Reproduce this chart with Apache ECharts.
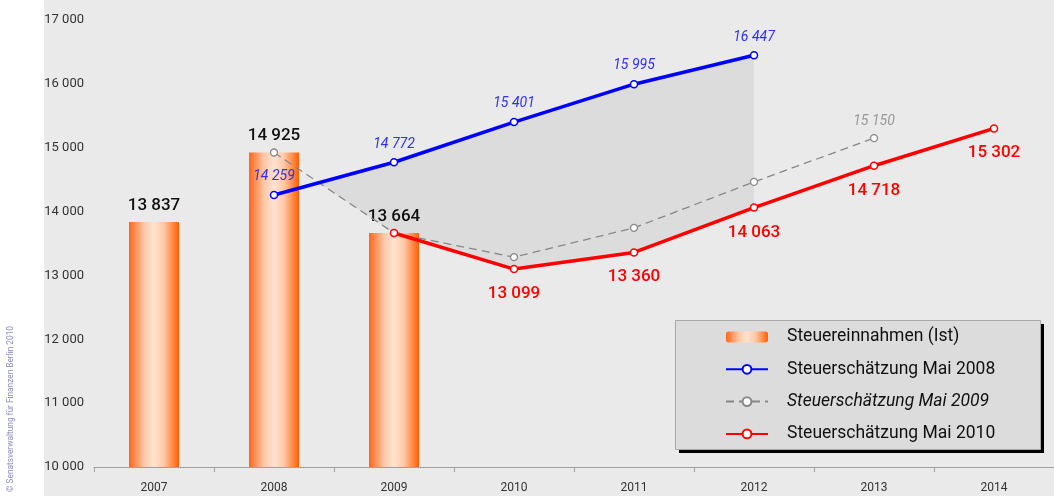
<!DOCTYPE html>
<html>
<head>
<meta charset="utf-8">
<title>Steuereinnahmen Berlin</title>
<script src="https://cdn.jsdelivr.net/npm/echarts@6/dist/echarts.min.js"></script>
<style>
    html, body { margin: 0; padding: 0; background: #fff; }
    #chart { width: 1054px; height: 496px; }
</style>
</head>
<body>
<div id="chart"></div>
<script>
// Jahre (x-Achse)
var years = ['2007', '2008', '2009', '2010', '2011', '2012', '2013', '2014']
// Steuereinnahmen (Ist), Mio. Euro
var ist = [13837, 14925, 13664, null, null, null, null, null]
// Steuerschätzung Mai 2008
var mai2008 = [null, 14259, 14772, 15401, 15995, 16447, null, null]
// Steuerschätzung Mai 2009
var mai2009 = [null, 14925, 13664, 13286, 13745, 14465, 15150, null]
// Steuerschätzung Mai 2010
var mai2010 = [null, null, 13664, 13099, 13360, 14063, 14718, 15302]
// nur diese Punkte bekommen eine Beschriftung
var mai2009Labels = [6]
var mai2010Labels = [3, 4, 5, 6, 7]

var FONT = 'Roboto, sans-serif'

function fmt(v) {
    var t = String(v % 1000)
    while (t.length < 3) t = '0' + t
    return Math.floor(v / 1000) + ' ' + t
}

function withLabels(arr, idx) {
    return arr.map(function (v, i) {
        if (v == null) return null
        return { value: v, label: { show: idx.indexOf(i) >= 0 } }
    })
}

// graue Fläche zwischen Schätzung 2008 und den späteren Schätzungen
function renderGap(params, api) {
    var p = function (i, v) { return api.coord([i, v]) }
    // Schnittpunkt blau / grau zwischen 2008 und 2009
    var a1 = p(1, mai2008[1]), a2 = p(2, mai2008[2])
    var b1 = p(1, mai2009[1]), b2 = p(2, mai2009[2])
    var d1 = a1[1] - b1[1], d2 = a2[1] - b2[1]
    var t = d1 / (d1 - d2)
    var cross = [a1[0] + (a2[0] - a1[0]) * t, a1[1] + (a2[1] - a1[1]) * t]
    var pts = [cross]
    for (var i = 2; i <= 5; i++) pts.push(p(i, mai2008[i]))
    for (var j = 5; j >= 2; j--) pts.push(p(j, mai2010[j]))
    return {
        type: 'polygon',
        shape: { points: pts },
        style: { fill: '#dcdcdc' },
        silent: true
    }
}

var chart = echarts.init(document.getElementById('chart'))

var option = {
    backgroundColor: '#eaeaea',
    animation: false,
    textStyle: { fontFamily: FONT },
    graphic: [
        {
            type: 'rect',
            left: 0, top: 0, z: 0,
            shape: { width: 44, height: 496 },
            style: { fill: '#ffffff' }
        },
        {
            type: 'text',
            x: 11, y: 409, rotation: Math.PI / 2,
            style: {
                text: '\u00a9 Senatsverwaltung f\u00fcr Finanzen Berlin 2010',
                fill: '#8a8ac0',
                font: '8.3px ' + FONT,
                align: 'center',
                verticalAlign: 'middle'
            }
        },
        // Legendenkasten mit Schatten
        {
            type: 'rect',
            x: 679, y: 324, z: 0,
            shape: { width: 365, height: 129 },
            style: { fill: '#000' }
        },
        {
            type: 'rect',
            x: 675.5, y: 320.5, z: 0,
            shape: { width: 365, height: 129 },
            style: { fill: '#dcdcdc', stroke: '#a8a8a8', lineWidth: 1 }
        }
    ],
    legend: {
        left: 725,
        top: 327,
        orient: 'vertical',
        padding: 0,
        itemWidth: 42,
        itemHeight: 11,
        itemGap: 12.3,
        textStyle: { fontSize: 17.5, color: '#111', fontFamily: FONT, lineHeight: 20, padding: [0, 0, 0, 14] },
        data: [
            'Steuereinnahmen (Ist)',
            'Steuerschätzung Mai 2008',
            { name: 'Steuerschätzung Mai 2009', textStyle: { fontStyle: 'italic' } },
            'Steuerschätzung Mai 2010'
        ]
    },
    grid: { left: 94, right: -12, top: 20, bottom: 29 },
    xAxis: {
        type: 'category',
        data: years,
        axisLine: { lineStyle: { color: '#a0a0a0' } },
        axisTick: { show: true, interval: 0, length: 5, lineStyle: { color: '#a0a0a0' } },
        axisLabel: { fontSize: 12, color: '#333', margin: 15, fontFamily: FONT }
    },
    yAxis: {
        type: 'value',
        min: 10000,
        max: 17000,
        interval: 1000,
        splitLine: { show: false },
        axisLine: { show: false },
        axisTick: { show: false },
        axisLabel: { fontSize: 13, color: '#333', margin: 10, fontFamily: FONT, formatter: fmt }
    },
    series: [
        {
            type: 'custom',
            renderItem: renderGap,
            data: [[0, 0]],
            z: 1,
            silent: true
        },
        {
            name: 'Steuereinnahmen (Ist)',
            type: 'bar',
            barWidth: 50,
            z: 2,
            itemStyle: {
                color: new echarts.graphic.LinearGradient(0, 0, 1, 0, [
                    { offset: 0, color: '#ff6518' },
                    { offset: 0.3, color: '#ffc8a8' },
                    { offset: 0.5, color: '#ffe2d0' },
                    { offset: 0.7, color: '#ffc8a8' },
                    { offset: 1, color: '#ff5e00' }
                ])
            },
            label: {
                show: true,
                position: 'top',
                distance: 8,
                fontSize: 17,
                fontWeight: 500,
                color: '#111',
                fontFamily: FONT,
                formatter: function (p) { return fmt(p.value) }
            },
            data: ist
        },
        {
            name: 'Steuerschätzung Mai 2009',
            type: 'line',
            z: 3,
            symbol: 'circle',
            symbolSize: 7,
            itemStyle: { color: '#fff', borderColor: '#888', borderWidth: 1.3 },
            lineStyle: { color: '#888', width: 1.3, type: [8, 5] },
            label: {
                position: 'top',
                distance: 5,
                fontSize: 14,
                fontStyle: 'italic',
                color: '#999',
                fontFamily: FONT,
                formatter: function (p) { return fmt(p.value) }
            },
            data: withLabels(mai2009, mai2009Labels)
        },
        {
            name: 'Steuerschätzung Mai 2008',
            type: 'line',
            z: 4,
            symbol: 'circle',
            symbolSize: 7,
            itemStyle: { color: '#fff', borderColor: '#0000ff', borderWidth: 1.5 },
            lineStyle: { color: '#0000ff', width: 3.5 },
            label: {
                show: true,
                position: 'top',
                distance: 7,
                fontSize: 14,
                fontStyle: 'italic',
                color: '#3030f0',
                fontFamily: FONT,
                formatter: function (p) { return fmt(p.value) }
            },
            data: mai2008
        },
        {
            name: 'Steuerschätzung Mai 2010',
            type: 'line',
            z: 5,
            symbol: 'circle',
            symbolSize: 7,
            itemStyle: { color: '#fff', borderColor: '#ff0000', borderWidth: 1.5 },
            lineStyle: { color: '#ff0000', width: 3.5 },
            label: {
                position: 'bottom',
                distance: 12,
                fontSize: 17,
                fontWeight: 500,
                color: '#ff0000',
                fontFamily: FONT,
                formatter: function (p) { return fmt(p.value) }
            },
            data: withLabels(mai2010, mai2010Labels)
        }
    ]
}

chart.setOption(option)
</script>
</body>
</html>
